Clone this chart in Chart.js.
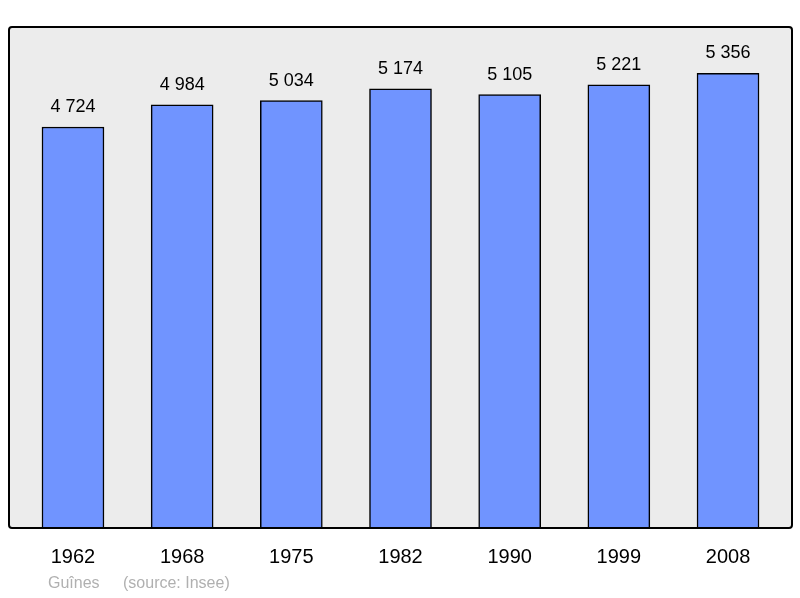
<!DOCTYPE html>
<html><head><meta charset="utf-8">
<script src="https://cdn.jsdelivr.net/npm/chart.js@4"></script>
<style>html,body{margin:0;padding:0;background:#fff}#w{width:800px;height:598px}</style>
</head><body><div id="w"><canvas id="c"></canvas></div>
<script>
const years = ["1962","1968","1975","1982","1990","1999","2008"];
const population = [4724,4984,5034,5174,5105,5221,5356];
const commune = "Guînes";
const source = "(source: Insee)";

const fmt = v => String(v).replace(/\B(?=(\d{3})+(?!\d))/g, " ");

const deco = {
  id: "deco",
  beforeDraw(ch) {
    const {ctx, chartArea: a} = ch;
    ctx.save();
    ctx.beginPath();
    ctx.roundRect(a.left, a.top, a.right - a.left, a.bottom - a.top, 3);
    ctx.fillStyle = "#ececec"; ctx.fill();
    ctx.restore();
  },
  afterDatasetsDraw(ch) {
    const {ctx, chartArea: a, scales: {x, y}} = ch;
    ctx.save();
    ctx.beginPath();
    ctx.roundRect(a.left, a.top, a.right - a.left, a.bottom - a.top, 3);
    ctx.lineWidth = 2; ctx.strokeStyle = "#000"; ctx.stroke();
    ctx.fillStyle = "#000"; ctx.textAlign = "center";
    ctx.font = "18px 'Liberation Sans', Arial, sans-serif";
    ctx.textBaseline = "bottom";
    population.forEach((v, i) => ctx.fillText(fmt(v), x.getPixelForValue(i), y.getPixelForValue(v) - 11));
    ctx.font = "20px 'Liberation Sans', Arial, sans-serif";
    ctx.textBaseline = "middle";
    years.forEach((t, i) => ctx.fillText(t, x.getPixelForValue(i), 557));
    ctx.font = "16px 'Liberation Sans', Arial, sans-serif";
    ctx.fillStyle = "#b0b0b0"; ctx.textAlign = "left";
    ctx.fillText(commune, 48, 584);
    ctx.fillText(source, 123, 584);
    ctx.restore();
  }
};

new Chart(document.getElementById("c"), {
  type: "bar",
  data: { datasets: [{
    data: population.map((v, i) => ({x: i, y: v})),
    backgroundColor: "#7094ff", borderColor: "#000", borderWidth: 1.5,
    barThickness: 62
  }]},
  options: {
    responsive: true, maintainAspectRatio: false, animation: false,
    layout: { padding: {left: 9, right: 8, top: 27, bottom: 70} },
    plugins: { legend: {display: false}, tooltip: {enabled: false} },
    scales: {
      x: { type: "linear", min: -0.586, max: 6.586, offset: false, display: false },
      y: { min: 0, max: 5902, display: false }
    }
  },
  plugins: [deco]
});
</script></body></html>
